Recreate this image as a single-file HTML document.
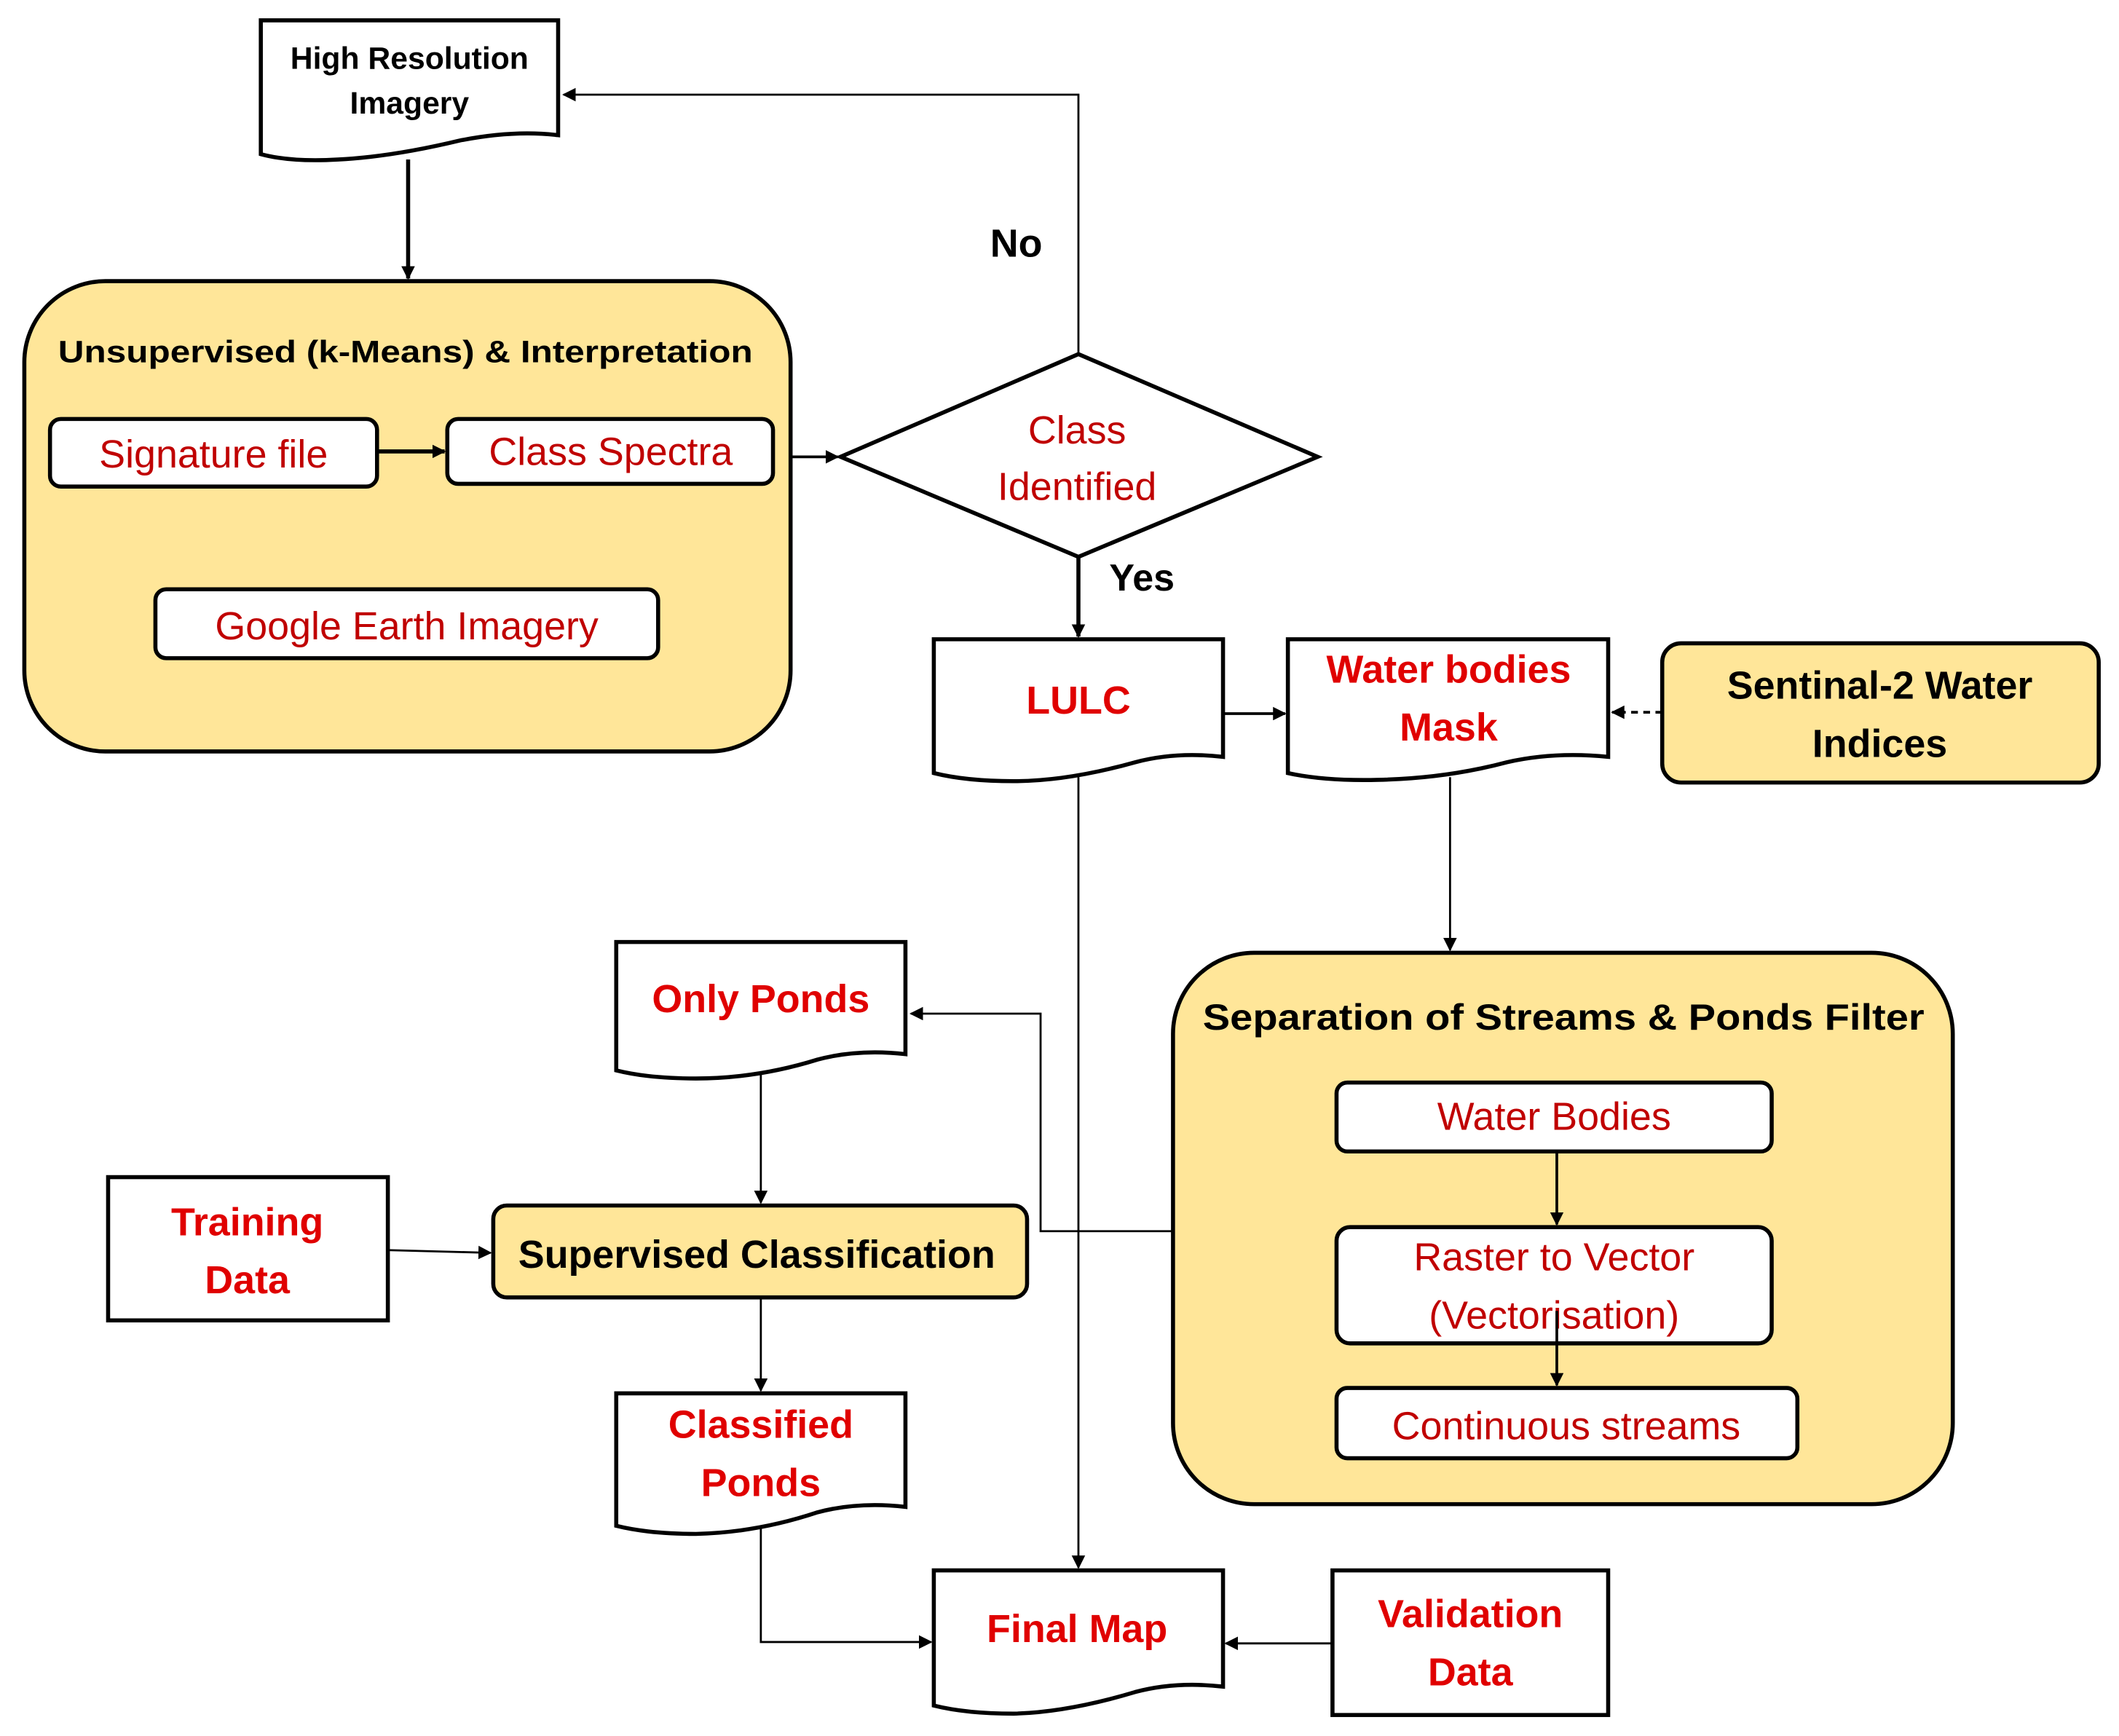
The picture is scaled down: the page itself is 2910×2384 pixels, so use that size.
<!DOCTYPE html>
<html><head><meta charset="utf-8"><style>html,body{margin:0;padding:0;background:#fff}svg{display:block}</style></head>
<body>
<svg xmlns="http://www.w3.org/2000/svg" width="2910" height="2384" viewBox="0 0 1568 1284.5">
<defs>
<marker id="a" markerWidth="10" markerHeight="10" refX="9" refY="5" orient="auto" markerUnits="userSpaceOnUse"><path d="M0,0 L10,5 L0,10 z" fill="#000"/></marker>
</defs>
<g font-family="Liberation Sans, sans-serif" text-anchor="middle">
<path d="M193,15 H413 V100 Q380,96 340,104 Q290,116 250,118 Q215,120 193,114 Z" fill="#fff" stroke="#000" stroke-width="3"/>
<text x="303" y="51" font-size="23" font-weight="bold">High Resolution</text>
<text x="303" y="84" font-size="23" font-weight="bold">Imagery</text>
<line x1="302" y1="118" x2="302" y2="206" stroke="#000" stroke-width="3" marker-end="url(#a)"/>

<rect x="18" y="208" width="567" height="348" rx="60" fill="#FFE699" stroke="#000" stroke-width="3"/>
<text x="300" y="268" font-size="23" font-weight="bold" textLength="514" lengthAdjust="spacingAndGlyphs">Unsupervised (k-Means) &amp; Interpretation</text>
<rect x="37" y="310" width="242" height="50" rx="8" fill="#fff" stroke="#000" stroke-width="3"/>
<text x="158" y="346" font-size="29" fill="#C00000">Signature file</text>
<line x1="279" y1="334" x2="329" y2="334" stroke="#000" stroke-width="3" marker-end="url(#a)"/>
<rect x="331" y="310" width="241" height="48" rx="8" fill="#fff" stroke="#000" stroke-width="3"/>
<text x="452" y="344" font-size="29" fill="#C00000">Class Spectra</text>
<rect x="115" y="436" width="372" height="51" rx="8" fill="#fff" stroke="#000" stroke-width="3"/>
<text x="301" y="473" font-size="29" fill="#C00000">Google Earth Imagery</text>
<line x1="585" y1="338" x2="620" y2="338" stroke="#000" stroke-width="2" marker-end="url(#a)"/>

<path d="M622,338 L798,262 L975,338 L798,412 Z" fill="#fff" stroke="#000" stroke-width="3"/>
<text x="797" y="328" font-size="29" fill="#C00000">Class</text>
<text x="797" y="370" font-size="29" fill="#C00000">Identified</text>
<polyline points="798,262 798,70 417,70" fill="none" stroke="#000" stroke-width="1.5" marker-end="url(#a)"/>
<text x="752" y="190" font-size="29" font-weight="bold">No</text>
<line x1="798" y1="412" x2="798" y2="471" stroke="#000" stroke-width="3" marker-end="url(#a)"/>
<text x="845" y="437" font-size="28" font-weight="bold">Yes</text>

<path d="M691,473 H905 V560 Q870,556 840,564 Q790,578 750,578 Q715,578 691,572 Z" fill="#fff" stroke="#000" stroke-width="3"/>
<text x="798" y="528" font-size="29" font-weight="bold" fill="#E00000">LULC</text>
<line x1="905" y1="528" x2="951" y2="528" stroke="#000" stroke-width="2" marker-end="url(#a)"/>

<path d="M953,473 H1190 V560 Q1150,556 1115,564 Q1070,576 1020,577 Q980,578 953,572 Z" fill="#fff" stroke="#000" stroke-width="3"/>
<text x="1072" y="505" font-size="29" font-weight="bold" fill="#E00000">Water bodies</text>
<text x="1072" y="548" font-size="29" font-weight="bold" fill="#E00000">Mask</text>
<line x1="1230" y1="527" x2="1193" y2="527" stroke="#000" stroke-width="2" stroke-dasharray="5,4" marker-end="url(#a)"/>
<rect x="1230" y="476" width="323" height="103" rx="14" fill="#FFE699" stroke="#000" stroke-width="3"/>
<text x="1391" y="517" font-size="29" font-weight="bold">Sentinal-2 Water</text>
<text x="1391" y="560" font-size="29" font-weight="bold">Indices</text>
<line x1="1073" y1="575" x2="1073" y2="703" stroke="#000" stroke-width="1.5" marker-end="url(#a)"/>

<rect x="868" y="705" width="577" height="408" rx="60" fill="#FFE699" stroke="#000" stroke-width="3"/>
<text x="1157" y="762" font-size="27" font-weight="bold" textLength="534" lengthAdjust="spacingAndGlyphs">Separation of Streams &amp; Ponds Filter</text>
<rect x="989" y="801" width="322" height="51" rx="8" fill="#fff" stroke="#000" stroke-width="3"/>
<text x="1150" y="836" font-size="29" fill="#C00000">Water Bodies</text>
<line x1="1152" y1="852" x2="1152" y2="906" stroke="#000" stroke-width="2" marker-end="url(#a)"/>
<rect x="989" y="908" width="322" height="86" rx="10" fill="#fff" stroke="#000" stroke-width="3"/>
<text x="1150" y="940" font-size="29" fill="#C00000">Raster to Vector</text>
<text x="1150" y="983" font-size="29" fill="#C00000">(Vectorisation)</text>
<line x1="1152" y1="970" x2="1152" y2="1025" stroke="#000" stroke-width="2" marker-end="url(#a)"/>
<rect x="989" y="1027" width="341" height="52" rx="8" fill="#fff" stroke="#000" stroke-width="3"/>
<text x="1159" y="1065" font-size="29" fill="#C00000">Continuous streams</text>
<polyline points="868,911 770,911 770,750 674,750" fill="none" stroke="#000" stroke-width="1.5" marker-end="url(#a)"/>

<path d="M456,697 H670 V780 Q635,776 605,784 Q560,798 515,798 Q480,798 456,792 Z" fill="#fff" stroke="#000" stroke-width="3"/>
<text x="563" y="749" font-size="29" font-weight="bold" fill="#E00000">Only Ponds</text>
<line x1="563" y1="795" x2="563" y2="890" stroke="#000" stroke-width="1.5" marker-end="url(#a)"/>

<rect x="80" y="871" width="207" height="106" fill="#fff" stroke="#000" stroke-width="3"/>
<text x="183" y="914" font-size="29" font-weight="bold" fill="#E00000">Training</text>
<text x="183" y="957" font-size="29" font-weight="bold" fill="#E00000">Data</text>
<line x1="287" y1="925" x2="363" y2="927" stroke="#000" stroke-width="1.5" marker-end="url(#a)"/>
<rect x="365" y="892" width="395" height="68" rx="10" fill="#FFE699" stroke="#000" stroke-width="3"/>
<text x="560" y="938" font-size="29" font-weight="bold">Supervised Classification</text>
<line x1="563" y1="960" x2="563" y2="1029" stroke="#000" stroke-width="1.5" marker-end="url(#a)"/>

<path d="M456,1031 H670 V1115 Q635,1111 605,1119 Q560,1134 515,1135 Q480,1135 456,1129 Z" fill="#fff" stroke="#000" stroke-width="3"/>
<text x="563" y="1064" font-size="29" font-weight="bold" fill="#E00000">Classified</text>
<text x="563" y="1107" font-size="29" font-weight="bold" fill="#E00000">Ponds</text>
<polyline points="563,1130 563,1215 689,1215" fill="none" stroke="#000" stroke-width="1.5" marker-end="url(#a)"/>
<line x1="798" y1="575" x2="798" y2="1160" stroke="#000" stroke-width="1.5" marker-end="url(#a)"/>

<path d="M691,1162 H905 V1248 Q870,1244 840,1252 Q790,1267 750,1268 Q715,1268 691,1262 Z" fill="#fff" stroke="#000" stroke-width="3"/>
<text x="797" y="1215" font-size="29" font-weight="bold" fill="#E00000">Final Map</text>
<rect x="986" y="1162" width="204" height="107" fill="#fff" stroke="#000" stroke-width="3"/>
<text x="1088" y="1204" font-size="29" font-weight="bold" fill="#E00000">Validation</text>
<text x="1088" y="1247" font-size="29" font-weight="bold" fill="#E00000">Data</text>
<line x1="986" y1="1216" x2="907" y2="1216" stroke="#000" stroke-width="1.5" marker-end="url(#a)"/>
</g>
</svg>
</body></html>
